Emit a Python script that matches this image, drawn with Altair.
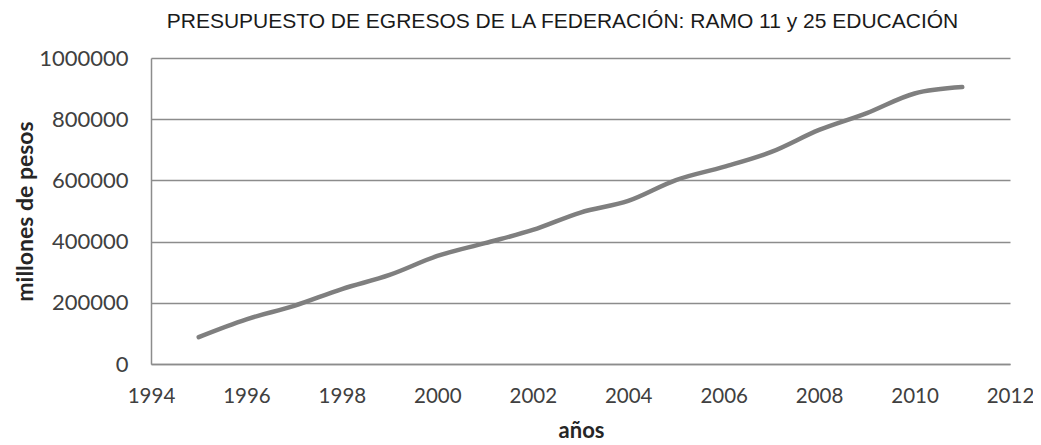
import altair as alt
import pandas as pd

years = [1995, 1996, 1997, 1998, 1999, 2000, 2001, 2002, 2003,
         2004, 2005, 2006, 2007, 2008, 2009, 2010, 2011]
budget = [88000, 146000, 190000, 245000, 291000, 353000, 395000, 438000, 495000,
          533000, 601000, 644000, 693000, 765000, 820000, 884000, 905000]
x_ticks = [1994, 1996, 1998, 2000, 2002, 2004, 2006, 2008, 2010, 2012]
y_ticks = [0, 200000, 400000, 600000, 800000, 1000000]

df = pd.DataFrame({"year": years, "value": budget})

grey = "#8c8c8c"
axis_font = "Lato"

chart = alt.Chart(df).mark_line(
    color="#7f7f7f", strokeWidth=4.5, interpolate="monotone", strokeCap="round"
).encode(
    x=alt.X("year:Q",
            scale=alt.Scale(domain=[1994, 2012], nice=False, zero=False),
            axis=alt.Axis(values=x_ticks, format="d", title="años",
                          grid=False, ticks=False, labelPadding=22,
                          labelFlush=False, labelOverlap=False,
                          labelFontSize=20.5, labelColor="#404040",
                          labelFont=axis_font, domainColor=grey, domainWidth=1.5,
                          titleFont=axis_font, titleFontSize=22, titleFontWeight="bold",
                          titleColor="#262626", titleX=430, titleY=73,
                          titleBaseline="alphabetic", titleAlign="center")),
    y=alt.Y("value:Q",
            scale=alt.Scale(domain=[0, 1000000], nice=False),
            axis=alt.Axis(values=y_ticks, format="d", title="millones de pesos",
                          grid=True, gridColor=grey, gridWidth=1.5,
                          ticks=False, labelPadding=23,
                          labelFontSize=22, labelColor="#404040",
                          labelFont=axis_font, domainColor=grey, domainWidth=1.5,
                          titleFont=axis_font, titleFontSize=23, titleFontWeight="bold",
                          titleColor="#262626", titleAngle=-90, titleX=-126, titleY=153,
                          titleAlign="center", titleBaseline="middle")),
).properties(
    width=859,
    height=306,
    title=alt.TitleParams(
        "PRESUPUESTO DE EGRESOS DE LA FEDERACIÓN: RAMO 11 y 25 EDUCACIÓN",
        font="Liberation Sans", fontSize=21, fontWeight="normal", color="#1a1a1a",
        anchor="middle", offset=15, dx=-18),
    padding={"left": 143, "top": 50, "right": 23, "bottom": 80},
    autosize=alt.AutoSizeParams(type="none"),
).configure_view(stroke=None)

chart.save("out.html", embed_options={"renderer": "svg", "actions": False})
